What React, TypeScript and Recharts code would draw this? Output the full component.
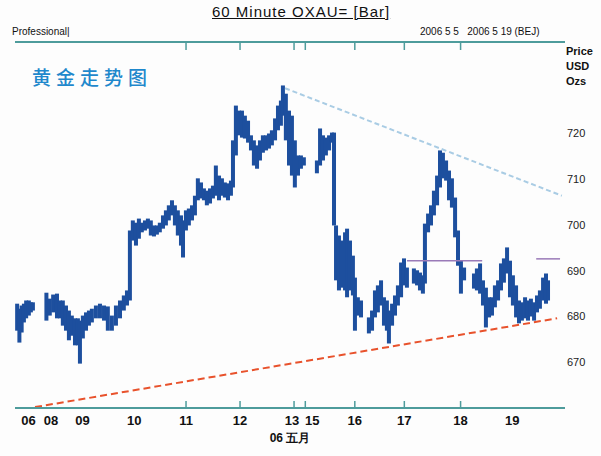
import React from "react";
import { ComposedChart, Bar, XAxis, YAxis, ReferenceLine } from "recharts";

// hourly bar index (x), low / high prices (USD per ounce)
const barIdx = [
  1, 2, 3, 4, 5, 6.2, 7.1, 8,
  14, 15.5, 17, 18.7, 20, 21.3, 22.7, 24, 25.3, 26.7, 28, 28.9, 30.2, 31.6, 32.9, 34.2, 36, 37.8, 39.6, 41.3, 43.1, 44.9, 46.7, 48.4, 49.8,
  51.1, 52.4, 53.8, 55.1, 56.4, 57.8, 59.1, 60.4, 61.8, 63.1, 64.4, 65.8, 67.1, 68.4, 69.8, 71.1, 72.4, 73.8, 74.7, 76, 77.3, 78.7, 80,
  81.3, 82.7, 84, 85.3, 86.7, 88, 89.3, 90.7, 92, 93.3, 94.7, 96, 96.9, 98.2, 99.6, 100.9, 102.2, 103.6, 104.9, 106.2, 107.6, 108.9,
  110.2, 111.6, 112.9, 114.2, 115.6, 116.9, 118.2, 119.1, 120.4, 121.8, 123.1, 124.4, 125.8, 127.1, 128.4,
  134.2, 135.6, 136.9, 138.2, 139.6, 140.9, 141.8, 142.7, 144, 145.3, 146.7, 147.6, 148.9, 150.2, 151.1, 152.4, 153.8,
  157.3, 158.7, 160, 161.3, 162.7, 164, 165.3, 166.2, 167.6, 168.9, 170.2, 171.6, 172.9, 174.2,
  177.3, 178.7, 180, 181.3, 182.2, 183.6, 184.9, 186.2, 187.6, 188.9, 190.2, 191.6, 192.9, 194.2, 195.6, 196.9, 198.2, 199.6,
  204, 205.3, 206.7, 208, 209.3, 210.7, 212, 213.3, 214.7, 216, 217.3, 218.7, 220, 221.3, 222.7, 224, 225.3, 226.7, 228,
  229.3, 230.7, 232, 233.3, 234.7, 236, 236.9,
];
const highVals = [
  682.8, 681.7, 682.4, 682.8, 683.5, 683.5, 683.1, 683.1,
  685.2, 683.9, 684.8, 685.0, 683.5, 683.5, 682.4, 681.3, 680.2, 679.6, 679.6, 679.1, 680.2, 680.9, 681.3, 681.7, 682.4, 682.8, 682.4, 682.2, 680.2, 682.4, 683.5, 684.6, 685.7,
  698.8, 701.0, 700.5, 701.4, 700.5, 701.0, 701.4, 701.0, 699.9, 699.9, 700.5, 702.1, 703.2, 704.3, 705.4, 704.3, 703.2, 702.1, 701.0, 703.2, 703.6, 704.3, 706.4,
  710.2, 709.3, 708.0, 707.5, 708.0, 708.6, 713.0, 710.8, 710.2, 709.3, 709.1, 709.7, 718.5, 726.1, 725.0, 725.0, 723.9, 722.8, 719.6, 718.5, 717.4, 718.5,
  719.6, 719.6, 720.0, 720.7, 723.3, 726.1, 727.2, 730.5, 728.7, 725.0, 723.9, 718.5, 715.2, 715.2, 714.8,
  714.1, 721.1, 719.6, 719.1, 719.6, 720.2, 720.2, 699.9, 697.7, 696.6, 698.4, 699.2, 696.6, 693.3, 688.5, 684.2, 683.5,
  679.8, 681.3, 685.7, 686.8, 687.9, 684.2, 683.5, 681.3, 682.8, 684.6, 686.8, 691.8, 692.7, 690.7,
  690.5, 690.1, 689.6, 689.0, 700.3, 702.5, 704.3, 707.5, 710.8, 716.3, 715.8, 714.1, 711.9, 710.2, 706.0, 698.8, 692.2, 690.7,
  689.4, 690.5, 691.6, 687.9, 686.3, 684.2, 684.2, 686.8, 687.9, 691.6, 692.7, 695.1, 692.2, 689.0, 686.8, 683.5, 683.1, 684.2, 683.5,
  683.9, 683.1, 684.6, 685.7, 688.5, 689.4, 687.9,
];
const lowVals = [
  676.9, 674.3, 676.5, 678.7, 679.6, 680.2, 680.9, 681.3,
  679.1, 680.2, 680.9, 679.6, 679.6, 678.0, 676.9, 674.8, 675.8, 673.7, 673.7, 669.7, 675.2, 676.9, 678.0, 678.7, 679.6, 679.6, 679.1, 676.9, 676.9, 678.0, 679.6, 681.3, 682.4,
  683.5, 696.6, 695.5, 697.0, 698.4, 698.8, 699.2, 697.7, 697.5, 697.9, 698.4, 699.2, 699.9, 701.0, 702.1, 699.9, 697.7, 695.5, 692.9, 698.8, 699.9, 701.0, 702.1,
  705.4, 705.8, 705.4, 704.3, 704.7, 705.8, 706.4, 705.4, 706.4, 706.0, 705.4, 706.4, 708.2, 715.2, 719.6, 719.1, 718.9, 718.0, 716.3, 713.0, 712.3, 714.1,
  715.8, 716.3, 716.7, 717.4, 718.5, 720.7, 721.7, 723.9, 718.5, 713.0, 710.8, 708.2, 710.8, 712.3, 713.0,
  711.3, 713.0, 714.1, 715.2, 716.3, 718.0, 699.9, 687.9, 685.7, 686.3, 685.7, 684.2, 685.7, 684.6, 676.9, 680.2, 679.8,
  676.3, 676.9, 679.8, 680.9, 682.4, 678.0, 676.9, 674.1, 678.0, 680.2, 682.4, 684.2, 686.8, 686.3,
  687.2, 686.8, 685.7, 685.0, 687.2, 698.4, 699.9, 702.1, 704.3, 708.2, 710.2, 709.7, 705.4, 703.8, 697.3, 691.1, 685.0, 687.9,
  686.1, 685.7, 685.0, 682.4, 677.6, 679.8, 680.2, 682.0, 683.5, 685.7, 687.4, 689.4, 684.2, 682.4, 679.8, 678.5, 679.1, 679.6, 679.1,
  680.0, 679.1, 680.9, 681.7, 683.5, 682.8, 683.5,
];

// day boundaries on the bar index scale
const dayTicks = [6, 16, 30, 53, 76, 100, 124, 129, 151, 173, 198, 221];
const dayLabels = ["06", "08", "09", "10", "11", "12", "13", "15", "16", "17", "18", "19"];
const markedDays = ["11", "12", "13", "15", "16", "17", "18"];
const priceTicks = [670, 680, 690, 700, 710, 720];

const data = barIdx.map((idx, i) => ({ idx, range: [lowVals[i], highVals[i]] }));

const teal = "#4e9c9c";
const barBlue = "#1d4f9e";
const labelFont = "'Liberation Sans', Arial, sans-serif";

const bottomTick = (props: any) => {
  const { x, y, index } = props;
  const label = dayLabels[index];
  const dx = label === "15" ? 7 : label === "13" ? -2 : 0;
  return (
    <g>
      {markedDays.includes(label) && <line x1={x} x2={x} y1={y - 7} y2={y} stroke={teal} strokeWidth={1.5} />}
      <text x={x + dx} y={y + 17} textAnchor="middle" fontSize={13} fontWeight="bold" fill="#111" fontFamily={labelFont}>
        {label}
      </text>
    </g>
  );
};

const topTick = (props: any) => {
  const { x, y, index } = props;
  const label = dayLabels[index];
  if (!markedDays.includes(label)) return <g />;
  return <line x1={x} x2={x} y1={y} y2={y + 8} stroke={teal} strokeWidth={1.5} />;
};

// high-low bar, drawn a little wider than the band so neighbouring hours join up
const hlBar = (props: any) => {
  const { x, y, width, height } = props;
  if (height == null || isNaN(height)) return <g />;
  const w = 4;
  return <rect x={x + width / 2 - w / 2} y={y} width={w} height={Math.max(Math.abs(height), 1)} fill={barBlue} />;
};

export default function App() {
  return (
    <div style={{ position: "absolute", left: 0, top: 0, width: 601, height: 456, background: "#fdfdfd", fontFamily: labelFont }}>
      <div style={{ position: "absolute", left: 212, top: 3, fontSize: 15, letterSpacing: 1, textDecoration: "underline", color: "#111" }}>
        60 Minute OXAU= [Bar]
      </div>
      <div style={{ position: "absolute", left: 12, top: 26, fontSize: 10, color: "#111" }}>Professional|</div>
      <div style={{ position: "absolute", left: 420, top: 26, fontSize: 10, color: "#111" }}>2006 5 5&nbsp;&nbsp; 2006 5 19 (BEJ)</div>
      <div style={{ position: "absolute", left: 566, top: 44, fontSize: 11, fontWeight: "bold", color: "#111", lineHeight: "15px", whiteSpace: "nowrap" }}>
        Price
        <br />
        USD
        <br />
        Ozs
      </div>
      <div
        style={{
          position: "absolute",
          left: 32,
          top: 63,
          fontSize: 19,
          letterSpacing: 5,
          color: "#1f88cc",
          fontFamily: "'Noto Sans CJK SC', sans-serif",
          fontWeight: 500,
        }}
      >
        黄金走势图
      </div>
      <ComposedChart width={601} height={456} data={data} margin={{ top: 41, right: 0, bottom: 0, left: 15 }}>
        <XAxis
          dataKey="idx"
          type="number"
          domain={[0, 244.4]}
          ticks={dayTicks}
          interval={0}
          allowDataOverflow
          tick={bottomTick}
          tickLine={false}
          tickSize={0}
          tickMargin={0}
          height={48}
          axisLine={{ stroke: teal, strokeWidth: 2 }}
          label={{ value: "06 五月", position: "insideBottom", offset: 14, fill: "#111", fontSize: 12, fontWeight: "bold" }}
        />
        <XAxis
          xAxisId="top"
          orientation="top"
          dataKey="idx"
          type="number"
          domain={[0, 244.4]}
          ticks={dayTicks}
          interval={0}
          allowDataOverflow
          tick={topTick}
          tickLine={false}
          tickSize={0}
          tickMargin={0}
          height={1}
          axisLine={{ stroke: teal, strokeWidth: 2 }}
        />
        <YAxis
          orientation="right"
          type="number"
          domain={[660, 740]}
          ticks={priceTicks}
          allowDataOverflow
          axisLine={false}
          tickLine={false}
          tickSize={0}
          tickMargin={2}
          width={36}
          tick={{ fontSize: 11, fill: "#222", fontFamily: labelFont }}
        />
        <ReferenceLine
          segment={[{ x: 120, y: 729.9 }, { x: 243, y: 706.4 }]}
          stroke="#a9cce4"
          strokeWidth={2}
          strokeDasharray="5 3"
        />
        <ReferenceLine
          segment={[{ x: 8.9, y: 660.2 }, { x: 240.9, y: 679.6 }]}
          stroke="#e8522c"
          strokeWidth={2}
          strokeDasharray="7 4"
        />
        <ReferenceLine segment={[{ x: 174.2, y: 692.2 }, { x: 207.6, y: 692.2 }]} stroke="#9a7ab8" strokeWidth={1.5} />
        <ReferenceLine segment={[{ x: 231.6, y: 692.6 }, { x: 242.2, y: 692.6 }]} stroke="#9a7ab8" strokeWidth={1.5} />
        <Bar dataKey="range" fill={barBlue} barSize={4} shape={hlBar} isAnimationActive={false} />
      </ComposedChart>
    </div>
  );
}
